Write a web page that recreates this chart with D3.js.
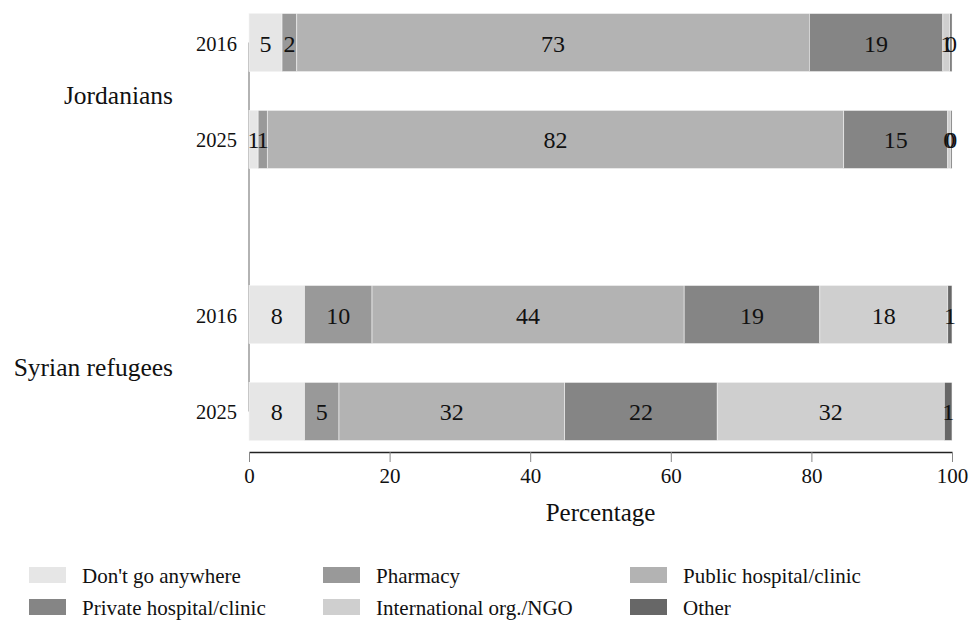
<!DOCTYPE html>
<html>
<head>
<meta charset="utf-8">
<script src="https://cdn.jsdelivr.net/npm/d3@7"></script>
<style>
  html, body { margin: 0; padding: 0; background: #fff; }
  svg { display: block; font-family: "Liberation Serif", "Times New Roman", serif; }
</style>
</head>
<body>
<svg id="chart" width="970" height="623"></svg>
<script>
// ---- data ----
const groups = ["Jordanians", "Syrian refugees"];
const years = ["2016", "2025"];
const categories = ["Don't go anywhere", "Pharmacy", "Public hospital/clinic",
                    "Private hospital/clinic", "International org./NGO", "Other"];
const jordanians2016 = [4.7, 2.1, 72.9, 19.0, 1.0, 0.3];
const jordanians2025 = [1.3, 1.3, 82.0, 14.8, 0.4, 0.2];
const syrians2016    = [7.9, 9.6, 44.4, 19.3, 18.2, 0.6];
const syrians2025    = [7.9, 4.9, 32.1, 21.7, 32.3, 1.1];
const xTicks = [0, 20, 40, 60, 80, 100];
const colors = ["#e6e6e6", "#999999", "#b3b3b3", "#858585", "#cfcfcf", "#676767"];

const rows = [
  { group: groups[0], year: years[0], values: jordanians2016 },
  { group: groups[0], year: years[1], values: jordanians2025 },
  { group: groups[1], year: years[0], values: syrians2016 },
  { group: groups[1], year: years[1], values: syrians2025 }
];

// ---- scales ----
const svg = d3.select("#chart");
const x = d3.scaleLinear().domain([0, 100]).range([249, 952]);
const yGroup = d3.scaleBand().domain(groups).range([13.5, 440.5]).paddingInner(0.43).paddingOuter(0);
const yYear = d3.scaleBand().domain(years).range([0, yGroup.bandwidth()]).paddingInner(0.4).paddingOuter(0);
const color = d3.scaleOrdinal().domain(categories).range(colors);

const yTop = r => yGroup(r.group) + yYear(r.year);
const bh = yYear.bandwidth();

// vertical y axis line (from first bar center to last bar center)
const firstC = yTop(rows[0]) + bh / 2;
const lastC = yTop(rows[rows.length - 1]) + bh / 2;
svg.append("line")
  .attr("x1", x(0)).attr("x2", x(0))
  .attr("y1", firstC).attr("y2", lastC)
  .attr("stroke", "#9a9a9a").attr("stroke-width", 1.5);

// bars
rows.forEach(r => {
  let cum = 0;
  const segs = r.values.map((v, i) => {
    const s = { cat: categories[i], start: cum, end: cum + v, v };
    cum += v;
    return s;
  });
  const g = svg.append("g");
  g.selectAll("rect").data(segs).join("rect")
    .attr("x", d => x(d.start))
    .attr("y", yTop(r))
    .attr("width", d => x(d.end) - x(d.start))
    .attr("height", bh)
    .attr("fill", d => color(d.cat))
    .attr("stroke", "#f4f4f4").attr("stroke-width", 0.6);
  g.selectAll("text").data(segs).join("text")
    .attr("x", d => x((d.start + d.end) / 2))
    .attr("y", yTop(r) + bh / 2 + 9)
    .attr("text-anchor", "middle")
    .attr("font-size", 24)
    .attr("fill", "#111")
    .text(d => Math.round(d.v));
  // year label
  svg.append("text")
    .attr("x", 237)
    .attr("y", yTop(r) + bh / 2 + 8)
    .attr("text-anchor", "end")
    .attr("font-size", 20.5)
    .attr("fill", "#111")
    .text(r.year);
});

// group labels
groups.forEach(gname => {
  svg.append("text")
    .attr("x", 173)
    .attr("y", yGroup(gname) + yGroup.bandwidth() / 2 + 13)
    .attr("text-anchor", "end")
    .attr("font-size", 25.5)
    .attr("fill", "#111")
    .text(gname);
});

// x axis
const axisY = 452;
const axisG = svg.append("g").attr("transform", `translate(0,${axisY})`)
  .call(d3.axisBottom(x).tickValues(xTicks).tickSize(10).tickSizeOuter(0).tickPadding(6));
axisG.select(".domain").attr("stroke", "#222").attr("stroke-width", 1.6);
axisG.selectAll(".tick line").attr("stroke", "#888").attr("stroke-width", 1);
axisG.selectAll(".tick text")
  .attr("font-family", "Liberation Serif, Times New Roman, serif")
  .attr("font-size", 21).attr("fill", "#111");

svg.append("text")
  .attr("x", (x(0) + x(100)) / 2)
  .attr("y", 521)
  .attr("text-anchor", "middle")
  .attr("font-size", 25)
  .attr("fill", "#111")
  .text("Percentage");

// legend
const legendCols = [29, 323, 630];
const legendRows = [567, 599];
const lg = svg.append("g");
categories.forEach((c, i) => {
  const cx = legendCols[i % 3], ry = legendRows[Math.floor(i / 3)];
  lg.append("rect").attr("x", cx).attr("y", ry).attr("width", 37).attr("height", 16)
    .attr("fill", color(c));
  lg.append("text").attr("x", cx + 53).attr("y", ry + 16)
    .attr("font-size", 21).attr("fill", "#111").text(c);
});
</script>
</body>
</html>
